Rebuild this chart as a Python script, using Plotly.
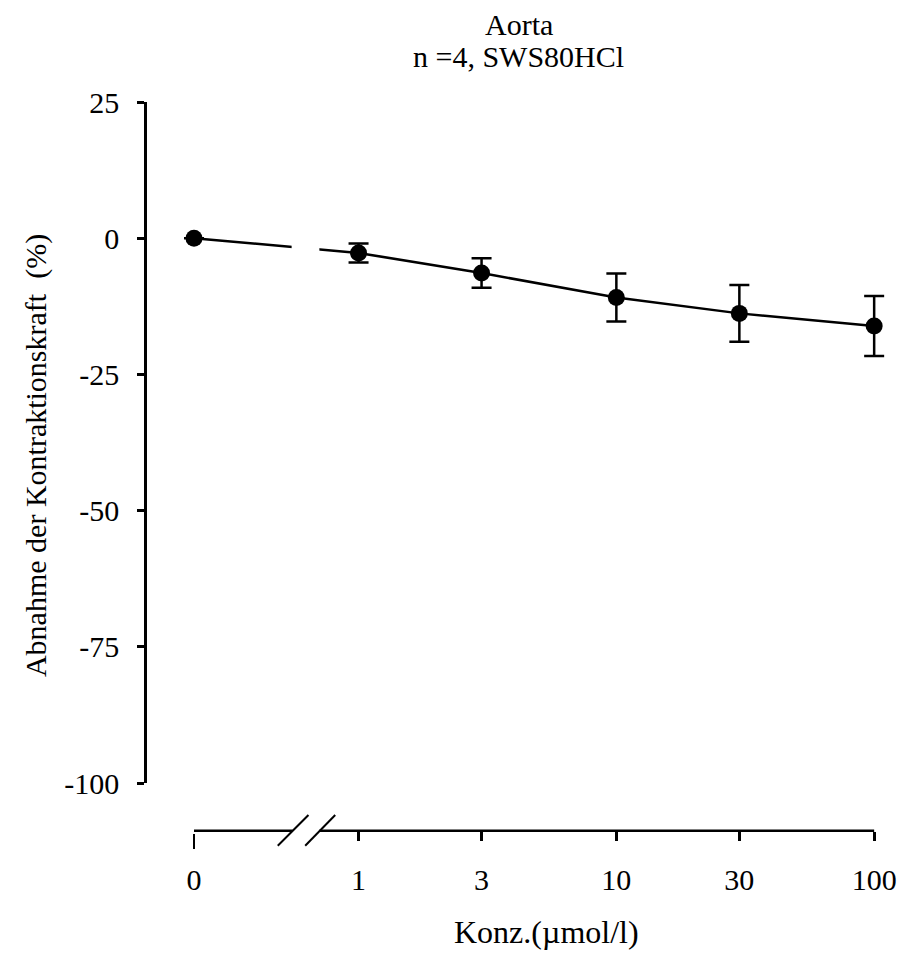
import numpy as np
import plotly.graph_objects as go

# ---------------- data ----------------
conc_labels = ["0", "1", "3", "10", "30", "100"]
conc = [0, 1, 3, 10, 30, 100]
mean_pct = [0.0, -2.7, -6.4, -10.9, -13.8, -16.1]
sem_pct = [0.0, 1.75, 2.7, 4.4, 5.2, 5.5]
y_tick_vals = [25, 0, -25, -50, -75, -100]
y_tick_text = ["25", "0", "-25", "-50", "-75", "-100"]

# display position (on the log axis) used for concentration 0
ZERO_AT = 0.23

def xpos(c):
    return np.log10(ZERO_AT) if c == 0 else np.log10(c)

xs = [xpos(c) for c in conc]

# ---------------- geometry ----------------
W, H = 909, 953
L, R = 147, 15
T = 102
PLOT_BOTTOM = 833
B = H - PLOT_BOTTOM
PW, PH = W - L - R, H - T - B
X_LEFT, X_RIGHT = -0.8206, 2.0498

def px_x(p):                 # pixel -> x data
    return X_LEFT + (p - L) / PW * (X_RIGHT - X_LEFT)
def pxx(p):                  # pixel -> x paper
    return (p - L) / PW
def py(p):                   # pixel -> y paper
    return (PLOT_BOTTOM - p) / PH

FONT = "Liberation Serif"
axis_y_px = 830.7

fig = go.Figure()
fig.add_trace(go.Scatter(x=xs, y=mean_pct, mode="lines",
                         line=dict(color="black", width=2.5),
                         xaxis="x", yaxis="y", hoverinfo="skip", showlegend=False))
fig.add_trace(go.Scatter(x=xs, y=mean_pct, mode="markers",
                         marker=dict(color="black", size=17),
                         error_y=dict(type="data", array=sem_pct, visible=True,
                                      color="black", thickness=2.5, width=10),
                         xaxis="x2", yaxis="y", showlegend=False))

shapes = []
# white gap in the data line at the axis break
shapes.append(dict(type="rect", xref="x", yref="y", x0=px_x(293), x1=px_x(321),
                   y0=-7, y1=4, fillcolor="white", line=dict(width=0), layer="above"))
# x axis line (with break)
ay = py(axis_y_px)
shapes.append(dict(type="line", xref="x", yref="paper", x0=xs[0], x1=px_x(294),
                   y0=ay, y1=ay, line=dict(color="black", width=2.5)))
shapes.append(dict(type="line", xref="x", yref="paper", x0=px_x(321), x1=xs[-1],
                   y0=ay, y1=ay, line=dict(color="black", width=2.5)))
# break slashes
for a, b in [(279, 310), (306.7, 337)]:
    shapes.append(dict(type="line", xref="x", yref="paper", x0=px_x(a), x1=px_x(b),
                       y0=py(845.7), y1=py(815), line=dict(color="black", width=2)))

annotations = [
    dict(text="Aorta", xref="paper", yref="paper", x=pxx(523), y=py(24),
         showarrow=False, font=dict(family=FONT, size=30, color="black"),
         xanchor="center", yanchor="middle"),
    dict(text="n =4, SWS80HCl", xref="paper", yref="paper", x=pxx(522), y=py(56),
         showarrow=False, font=dict(family=FONT, size=30, color="black"),
         xanchor="center", yanchor="middle"),
    dict(text="Abnahme der Kontraktionskraft \u00a0(%)", xref="paper", yref="paper",
         x=pxx(35), y=py(456), textangle=-90, showarrow=False,
         font=dict(family=FONT, size=30, color="black"),
         xanchor="center", yanchor="middle"),
    dict(text="Konz.(\u00b5mol/l)", xref="paper", yref="paper",
         x=pxx(550), y=py(932), showarrow=False,
         font=dict(family=FONT, size=32, color="black"),
         xanchor="center", yanchor="middle"),
]

fig.update_layout(
    width=W, height=H,
    margin=dict(l=L, r=R, t=T, b=B, pad=0),
    paper_bgcolor="white", plot_bgcolor="white",
    font=dict(family=FONT, color="black", size=30),
    showlegend=False,
    shapes=shapes, annotations=annotations,
    xaxis=dict(range=[X_LEFT, X_RIGHT], anchor="free", position=ay,
               showline=False, showgrid=False, zeroline=False,
               tickmode="array", tickvals=xs[1:], ticktext=conc_labels[1:],
               ticks="outside", ticklen=9, tickwidth=2.5, tickcolor="black",
               ticklabelstandoff=13,
               tickfont=dict(family=FONT, size=30, color="black")),
    xaxis2=dict(range=[X_LEFT, X_RIGHT], anchor="free", position=0, overlaying="x",
                matches="x",
                showline=False, showgrid=False, zeroline=False,
                tickmode="array", tickvals=[xs[0]], ticktext=[conc_labels[0]],
                ticks="outside", ticklen=15, tickwidth=2, tickcolor="black",
                ticklabelstandoff=5,
                tickfont=dict(family=FONT, size=30, color="black")),
    yaxis=dict(range=[-100, 25], domain=[py(783), 1],
               showline=True, linewidth=2.5, linecolor="black", mirror=False,
               showgrid=False, zeroline=False,
               tickmode="array", tickvals=y_tick_vals, ticktext=y_tick_text,
               ticks="outside", ticklen=7, tickwidth=2.5, tickcolor="black",
               ticklabelstandoff=12,
               tickfont=dict(family=FONT, size=30, color="black")),
)

fig.write_html("out.html",
               config={"displayModeBar": False},
               post_script="document.body.style.margin='0';document.body.style.overflow='hidden';")
